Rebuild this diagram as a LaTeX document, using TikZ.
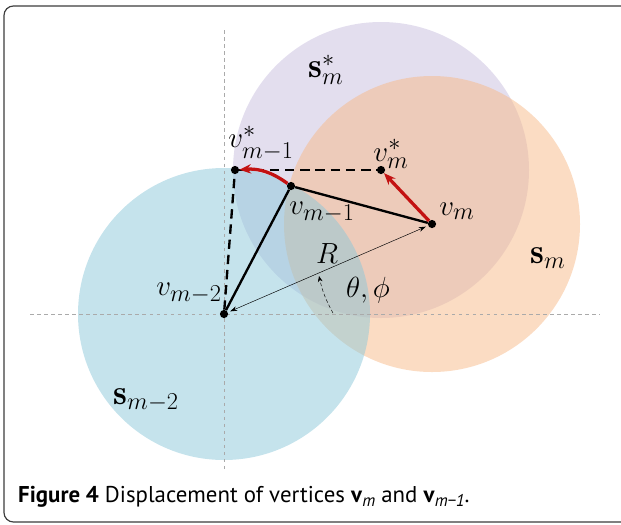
\documentclass[tikz,border=0pt]{standalone}
\usepackage{amsmath,amssymb,xcolor}
\usepackage{fontspec}
\setsansfont{PT Sans}
\definecolor{dsplblue}{RGB}{140,200,218}
\definecolor{dsplorange}{RGB}{247,185,135}
\definecolor{dsplpurple}{RGB}{199,189,222}
\definecolor{dsplred}{RGB}{195,18,18}
\definecolor{dsplgray}{RGB}{170,170,170}
\definecolor{dsplframe}{RGB}{60,60,60}
\usetikzlibrary{arrows.meta,positioning,calc}

\begin{document}
\begin{tikzpicture}[x=0.03cm,y=-0.03cm,
  dsplvertex/.style={circle,fill=black,inner sep=0pt,minimum size=7pt},
  dspllabel/.style={font=\fontsize{30}{34}\selectfont,inner sep=0pt},
  dsplzone/.style={fill opacity=0.5},
  dsplaxis/.style={dsplgray,dashed,thin},
  dspledge/.style={line width=2pt,black},
  dsplmove/.style={-{Stealth[length=10pt,width=8pt]},line width=2.8pt,dsplred},
  dsplthin/.style={{Stealth[length=6pt,width=4pt]}-{Stealth[length=6pt,width=4pt]},thin}
]
  \useasboundingbox (0,0) rectangle (621,524);
  \begin{scope}
    \clip (0,0) rectangle (621,524);
    \draw[dsplframe,line width=1pt,rounded corners=8pt] (4,6) rectangle (660,522);
  \end{scope}

  % Spheres
  \fill[dsplpurple,dsplzone] (381,170) circle (148);
  \fill[dsplorange,dsplzone] (432,224) circle (148);
  \fill[dsplblue,dsplzone] (224,314) circle (146);

  % Axes
  \draw[dsplaxis] (30,314) -- (600,314);
  \draw[dsplaxis] (224,30) -- (224,470);

  % Vertices
  \node[dsplvertex] (vmm2) at (224,314) {};
  \node[dsplvertex] (vmm1) at (291,186) {};
  \node[dsplvertex] (vm) at (432,224) {};
  \node[dsplvertex] (vmm1s) at (235,170) {};
  \node[dsplvertex] (vms) at (381,170) {};

  % Edges
  \draw[dsplthin,shorten <=2pt,shorten >=2pt] (vmm2) -- (vm);
  \draw[dspledge] (vmm2) -- (vmm1);
  \draw[dspledge] (vmm1) -- (vm);
  \draw[dspledge,dash pattern=on 8pt off 5pt] (vmm2) -- (vmm1s);
  \draw[dspledge,dash pattern=on 8pt off 5pt] (vmm1s) -- (vms);

  % Displacements
  \draw[dsplmove] (vm) -- (vms);
  \draw[dsplmove] (vmm1) to[bend right=20] (vmm1s);

  % Angle
  \coordinate (angs) at (333,313);
  \coordinate (ange) at (319,276);
  \draw[-{Stealth[length=5pt,width=4pt]},thin,densely dashed] (angs) to[bend left=8] (ange);

  % Labels
  \node[dspllabel] (lsms) at (326,70) {$\mathbf{s}_m^*$};
  \node[dspllabel] (lsm) at (548,258) {$\mathbf{s}_m$};
  \node[dspllabel] (lsmm2) at (146,400) {$\mathbf{s}_{m-2}$};
  \node[dspllabel] (lvmm1s) at (261,143) {$v_{m-1}^*$};
  \node[dspllabel] (lvms) at (391,154) {$v_m^*$};
  \node[dspllabel] (lvmm1) at (322,212) {$v_{m-1}$};
  \node[dspllabel] (lvm) at (457,211) {$v_m$};
  \node[dspllabel] (lvmm2) at (189,293) {$v_{m-2}$};
  \node[dspllabel] (lR) at (327,254) {$R$};
  \node[dspllabel] (lang) at (368,290) {$\theta,\phi$};

  % Caption
  \node[anchor=west,inner sep=0pt,font=\sffamily\fontsize{19.5}{23}\selectfont] (cap) at (18,497)
    {\textbf{Figure 4} Displacement of vertices \textbf{v}\raisebox{-0.3ex}{\fontsize{14.5}{16}\selectfont\itshape m} and \textbf{v}\raisebox{-0.3ex}{\fontsize{14.5}{16}\selectfont\itshape m\textminus1}.};
\end{tikzpicture}
\end{document}
